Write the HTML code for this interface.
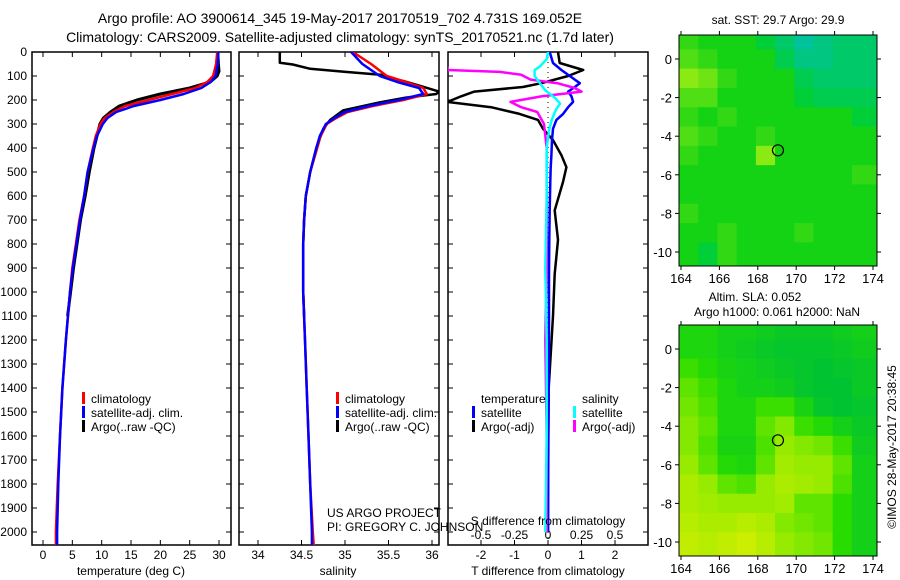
<!DOCTYPE html>
<html><head><meta charset="utf-8"><style>
html,body{margin:0;padding:0;background:#fff;}
svg{display:block;font-family:"Liberation Sans",sans-serif;}
</style></head><body>
<svg id="fig" width="900" height="580" viewBox="0 0 900 580" xmlns="http://www.w3.org/2000/svg">
<defs>
<clipPath id="c1"><rect x="32" y="52" width="199" height="493"/></clipPath>
<clipPath id="c2"><rect x="239" y="52" width="200" height="493"/></clipPath>
<clipPath id="c3"><rect x="448" y="52" width="200" height="493"/></clipPath>
</defs>
<text x="340" y="23" font-size="14" text-anchor="middle">Argo profile: AO 3900614_345 19-May-2017 20170519_702 4.731S 169.052E</text>
<text x="340" y="42" font-size="14" text-anchor="middle">Climatology: CARS2009. Satellite-adjusted climatology: synTS_20170521.nc (1.7d later)</text>
<g id="g1"></g><g id="g2"></g><g id="g3"></g><g id="m1"></g><g id="m2"></g>
<g font-size="12">
<rect x="82" y="392" width="3" height="12" fill="#f00"/><text x="91" y="403">climatology</text>
<rect x="82" y="406" width="3" height="12" fill="#00f"/><text x="91" y="417">satellite-adj. clim.</text>
<rect x="82" y="420" width="3" height="12" fill="#000"/><text x="91" y="431">Argo(..raw -QC)</text>
</g>
<g font-size="12">
<rect x="336" y="392" width="3" height="12" fill="#f00"/><text x="345" y="403">climatology</text>
<rect x="336" y="406" width="3" height="12" fill="#00f"/><text x="345" y="417">satellite-adj. clim.</text>
<rect x="336" y="420" width="3" height="12" fill="#000"/><text x="345" y="431">Argo(..raw -QC)</text>
</g>
<g font-size="12">
<text x="481" y="403">temperature</text><text x="582" y="403">salinity</text>
<rect x="472" y="406" width="3" height="12" fill="#00f"/><text x="481" y="417">satellite</text>
<rect x="472" y="420" width="3" height="12" fill="#000"/><text x="481" y="431">Argo(-adj)</text>
<rect x="573" y="406" width="3" height="12" fill="#0ff"/><text x="582" y="417">satellite</text>
<rect x="573" y="420" width="3" height="12" fill="#f0f"/><text x="582" y="431">Argo(-adj)</text>
</g>
<text x="327" y="517" font-size="12">US ARGO PROJECT</text>
<text x="327" y="531" font-size="12">PI: GREGORY C. JOHNSON</text>
<text x="131" y="575" font-size="12" text-anchor="middle">temperature (deg C)</text>
<text x="338" y="575" font-size="12" text-anchor="middle">salinity</text>
<text x="548" y="575" font-size="12" text-anchor="middle">T difference from climatology</text>
<text x="548" y="525" font-size="12" text-anchor="middle">S difference from climatology</text>
<text x="778" y="24" font-size="12" text-anchor="middle">sat. SST: 29.7 Argo: 29.9</text>
<text x="755" y="301" font-size="12" text-anchor="middle">Altim. SLA: 0.052</text>
<text x="777" y="316" font-size="12" text-anchor="middle">Argo h1000: 0.061 h2000: NaN</text>
<text transform="translate(896,447) rotate(-90)" font-size="12" text-anchor="middle">©IMOS 28-May-2017 20:38:45</text>
</svg>
<script>
// ---- data ----
const depthTick = [0,100,200,300,400,500,600,700,800,900,1000,1100,1200,1300,1400,1500,1600,1700,1800,1900,2000];
const tTicks = [0,5,10,15,20,25,30];
const sTicks = [34,34.5,35,35.5,36];
const sTickLabels = ["34","34.5","35","35.5","36"];
const dTTicks = [-2,-1,0,1,2];
const dSTicks = [-0.5,-0.25,0,0.25,0.5];
const dSTickLabels = ["-0.5","-0.25","0","0.25","0.5"];

const depClim = [0,50,100,125,150,175,200,225,250,275,300,350,400,500,600,700,800,900,1000,1200,1400,1600,1800,2000,2055];
const tempClim = [29.7,29.5,29.0,28,26,22,18,14,12,10.5,9.8,9.0,8.5,7.6,7.0,6.2,5.6,5.0,4.6,3.9,3.3,2.9,2.5,2.2,2.2];
const tempSat  = [29.9,29.8,29.4,28.6,27,24,20,15.5,12.5,11,10.2,9.2,8.6,7.6,7.0,6.3,5.7,5.1,4.6,3.9,3.3,2.9,2.6,2.4,2.4];
const depArgo = [0,50,80,100,125,150,175,200,225,250,275,300,350,400,500,600,700,800,900,1000,1100];
const tempArgo = [29.8,29.9,30.0,29.7,28.5,25,20,16,13,11.5,10.3,9.7,9.2,8.7,7.9,7.2,6.4,5.8,5.2,4.7,4.2];

const salClim = [35.09,35.3,35.48,35.7,35.9,35.94,35.67,35.32,35.03,34.9,34.79,34.72,34.68,34.6,34.55,34.53,34.52,34.52,34.52,34.54,34.56,34.58,34.6,34.63,34.64];
const salSat  = [35.07,35.2,35.4,35.6,35.85,35.9,35.62,35.27,35.0,34.88,34.78,34.71,34.67,34.6,34.55,34.53,34.52,34.52,34.52,34.54,34.56,34.58,34.6,34.62,34.62];
const depSalArgo = [0,45,52,70,82,96,113,121,145,165,175,190,210,243,283,320,400,500,600,700,800,900,1000,1100];
const salArgo = [34.25,34.25,34.4,34.6,34.99,35.45,35.55,35.67,35.9,36.08,36.05,35.7,35.4,34.98,34.83,34.75,34.67,34.6,34.55,34.53,34.52,34.52,34.52,34.53];

const depDiff = [0,46,75,100,130,146,165,185,208,230,258,283,320,367,430,480,540,660,783,925,1100,1400,1700,2000];
const dTArgo = [0.3,0.35,1.05,0.6,-0.2,-0.75,-2.2,-2.6,-3.0,-1.7,-0.85,-0.3,-0.15,0.15,0.4,0.55,0.45,0.2,0.3,0.2,0.15,0.02,0.0,0.0];
const dTSat  = [0.05,0.15,0.4,0.65,0.95,0.8,0.6,0.7,0.75,0.6,0.45,0.25,0.15,0.12,0.1,0.08,0.07,0.05,0.04,0.03,0.03,0.02,0.01,0.0];
const depSDiff = [60,75,83,95,115,130,150,165,185,208,230,250,300,400,600,900,1200,1600,2000];
const dSArgo = [-0.75,-0.75,-0.36,-0.2,-0.13,0.07,0.2,0.25,-0.05,-0.28,-0.2,-0.08,-0.03,-0.01,-0.01,-0.01,-0.02,-0.01,-0.01];
const depSSat = [0,30,60,75,100,130,160,190,215,240,280,320,400,600,900,1200,1600,2000];
const dSSat = [0.0,-0.01,-0.06,-0.1,-0.1,-0.06,-0.02,0.05,0.09,0.06,0.03,0.01,-0.01,-0.01,-0.02,-0.01,-0.01,-0.02];

// map data: rows lat 1..-10, cols lon 164..173 (1 deg)
const mapLats = [1,0,-1,-2,-3,-4,-5,-6,-7,-8,-9,-10];
const mapLons = [164,165,166,167,168,169,170,171,172,173];
const slaGrid = [
[0.3,0.3,0.2,0.2,0.15,0.1,0.1,0.1,0.15,0.2],
[0.3,0.3,0.2,0.15,0.1,0.05,0.05,0.05,0.1,0.15],
[0.45,0.35,0.25,0.2,0.15,0.1,0.05,0.0,0.05,0.1],
[0.55,0.45,0.3,0.2,0.2,0.15,0.05,0.0,0.0,0.1],
[0.6,0.5,0.3,0.3,0.45,0.45,0.25,0.05,0.0,0.05],
[0.65,0.55,0.3,0.3,0.55,0.65,0.45,0.35,0.2,0.1],
[0.65,0.5,0.25,0.25,0.5,0.7,0.65,0.6,0.45,0.15],
[0.7,0.55,0.35,0.3,0.55,0.75,0.7,0.7,0.55,0.2],
[0.8,0.7,0.55,0.5,0.7,0.8,0.75,0.7,0.5,0.2],
[0.8,0.75,0.7,0.7,0.7,0.75,0.55,0.55,0.4,0.2],
[0.85,0.8,0.8,0.85,0.8,0.65,0.6,0.55,0.4,0.2],
[0.9,0.85,0.9,0.95,0.85,0.7,0.65,0.6,0.4,0.2]];
const sstGrid = [
[0.1,0,0,0,-0.1,-0.3,-0.5,-0.4,-0.3,-0.3],
[0.2,0.1,0,0,0,-0.2,-0.4,-0.4,-0.3,-0.3],
[0.4,0.3,0.1,0,0,0,-0.2,-0.3,-0.3,-0.3],
[0.2,0.2,0,0,0,0,-0.1,-0.2,-0.2,-0.2],
[0.1,0,0.1,0,0,0,0,0,0,-0.1],
[0.2,0.1,0,0,0.1,0,0,0,0,0],
[0.1,0,0,0,0.4,0,0,0,0,0],
[0,0,0,0,0,0,0,0,0,0.1],
[0,0,0,0,0,0,0,0,0,0],
[0.1,0,0,0,0,0,0,0,0,0],
[0,0,0.1,0,0,0,0.1,0,0,0],
[0,-0.1,0.1,0,0,0,0,0,0,0]];
const argoLon = 169.05, argoLat = -4.73;
const mapXTicks = [164,166,168,170,172,174];
const mapYTicks = [0,-2,-4,-6,-8,-10];

// ---- drawing ----
const NS="http://www.w3.org/2000/svg";
function mk(tag, attrs, parent){const e=document.createElementNS(NS,tag);for(const k in attrs)e.setAttribute(k,attrs[k]);parent.appendChild(e);return e;}
const yD = d => 52 + d*0.24;
const xT = t => 43 + t*5.867;
const xS = s => 258 + (s-34)*87;
const xdT = v => 548 + v*33.5;
const xdS = v => 548 + v*134;

function frame(g, x0, x1, name){
  const r=mk('rect',{x:x0,y:52,width:x1-x0,height:493,fill:'none',stroke:'#000','stroke-width':1.5},g);
  
  
  depthTick.forEach(d=>{
    mk('line',{x1:x0,x2:x0+5,y1:yD(d),y2:yD(d),stroke:'#000'},g);
    mk('line',{x1:x1-5,x2:x1,y1:yD(d),y2:yD(d),stroke:'#000'},g);
  });
}
function xticks(g, vals, labels, fx, ly){
  vals.forEach((v,i)=>{
    const x=fx(v);
    mk('line',{x1:x,x2:x,y1:545,y2:540,stroke:'#000'},g);
    mk('line',{x1:x,x2:x,y1:52,y2:57,stroke:'#000'},g);
    const t=mk('text',{x:x,y:ly,'font-size':12,'text-anchor':'middle'},g);
    t.textContent=labels[i];
    
    
  });
}
function line(g, xs, ds, fx, color, w, clip, name){
  const pts=xs.map((v,i)=>fx(v).toFixed(1)+','+yD(ds[i]).toFixed(1)).join(' ');
  const p=mk('polyline',{points:pts,fill:'none',stroke:color,'stroke-width':w,'clip-path':'url(#'+clip+')','stroke-linejoin':'round'},g);
  
  
}
// panel 1
const g1=document.getElementById('g1');
frame(g1,32,231,'temperature-panel');
depthTick.forEach(d=>{
  const t=mk('text',{x:27,y:yD(d)+4,'font-size':12,'text-anchor':'end'},g1);
  t.textContent=d;
  
  
});
xticks(g1,tTicks,tTicks.map(String),xT,559);
line(g1,tempArgo,depArgo,xT,'#000',3,'c1','temperature-argo-line');
line(g1,tempClim,depClim,xT,'#f00',2.5,'c1','temperature-climatology-line');
line(g1,tempSat,depClim,xT,'#00f',2.5,'c1','temperature-satellite-line');
// panel 2
const g2=document.getElementById('g2');
frame(g2,239,439,'salinity-panel');
xticks(g2,sTicks,sTickLabels,xS,559);
line(g2,salArgo,depSalArgo,xS,'#000',2.5,'c2','salinity-argo-line');
line(g2,salClim,depClim,xS,'#f00',2.5,'c2','salinity-climatology-line');
line(g2,salSat,depClim,xS,'#00f',2.5,'c2','salinity-satellite-line');
// panel 3
const g3=document.getElementById('g3');
frame(g3,448,648,'difference-panel');
xticks(g3,dTTicks,dTTicks.map(String),xdT,559);
dSTicks.forEach((v,i)=>{
  const t=mk('text',{x:xdS(v),y:539,'font-size':12,'text-anchor':'middle'},g3);
  t.textContent=dSTickLabels[i];
  
  
});
mk('line',{x1:xdT(0),x2:xdT(0),y1:52,y2:545,stroke:'#000','stroke-dasharray':'1,4'},g3);
line(g3,dTArgo,depDiff,xdT,'#000',2.5,'c3','t-diff-argo-line');
line(g3,dTSat,depDiff,xdT,'#00f',2.5,'c3','t-diff-satellite-line');
line(g3,dSArgo,depSDiff,xdS,'#f0f',2.5,'c3','s-diff-argo-line');
line(g3,dSSat,depSSat,xdS,'#0ff',2.5,'c3','s-diff-satellite-line');

// maps
function lerp(a,b,t){return a+(b-a)*t;}
function slaColor(v){
  const stops=[[0,[0,195,50]],[0.4,[40,220,0]],[0.7,[150,235,0]],[1,[215,238,0]]];
  for(let i=1;i<stops.length;i++){ if(v<=stops[i][0]){const t=(v-stops[i-1][0])/(stops[i][0]-stops[i-1][0]);const a=stops[i-1][1],b=stops[i][1];return 'rgb('+a.map((c,j)=>Math.round(lerp(c,b[j],t))).join(',')+')';}}
  return 'rgb(215,238,0)';
}
function sstColor(v){
  if(v>=0){return 'rgb('+Math.round(20+v*300)+','+Math.round(210+v*60)+','+Math.round(20)+')';}
  return 'rgb(0,'+Math.round(210+v*30)+','+Math.round(30-v*250)+')';
}
function drawMap(id, top, grid, colorFn, name){
  const g=document.getElementById(id);
  const lat0=top+24;
  const mx=lon=>681+(lon-164)*19.2, my=lat=>lat0-lat*19.3;
  const bottom=top+231;
  grid.forEach((row,i)=>row.forEach((v,j)=>{
    const x0=Math.max(679,mx(mapLons[j]-0.1)), x1=(j===row.length-1)?877:mx(mapLons[j]+0.9);
    const y0=(i===0)?top:my(mapLats[i]+0.5), y1=(i===grid.length-1)?bottom:my(mapLats[i]-0.5);
    const c=mk('rect',{x:x0,y:y0,width:x1-x0+0.5,height:y1-y0+0.5,fill:colorFn(v)},g);
    
    
  }));
  const f=mk('rect',{x:679,y:top,width:198,height:231,fill:'none',stroke:'#000'},g);
  
  
  mapXTicks.forEach(l=>{
    mk('line',{x1:mx(l),x2:mx(l),y1:top,y2:top-4,stroke:'#000'},g);
    mk('line',{x1:mx(l),x2:mx(l),y1:bottom,y2:bottom+4,stroke:'#000'},g);
    const t=mk('text',{x:mx(l),y:bottom+17,'font-size':13,'text-anchor':'middle'},g);
    t.textContent=l;
    
    
  });
  mapYTicks.forEach(l=>{
    mk('line',{x1:679,x2:675,y1:my(l),y2:my(l),stroke:'#000'},g);
    mk('line',{x1:877,x2:881,y1:my(l),y2:my(l),stroke:'#000'},g);
    const t=mk('text',{x:672,y:my(l)+5,'font-size':13,'text-anchor':'end'},g);
    t.textContent=l;
    
    
  });
  const c=mk('circle',{cx:mx(argoLon),cy:my(argoLat),r:5.5,fill:'none',stroke:'#000','stroke-width':1.2},g);
  
  
}
drawMap('m1',35,sstGrid,sstColor,'sst-map');
drawMap('m2',325,slaGrid,slaColor,'sla-map');
</script>
</body></html>
